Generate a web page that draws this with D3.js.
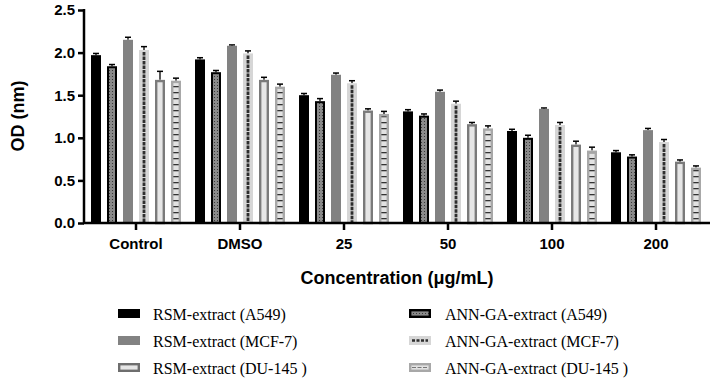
<!DOCTYPE html>
<html lang="en">
<head>
<meta charset="UTF-8">
<title>OD bar chart</title>
<script src="https://cdn.jsdelivr.net/npm/d3@7"></script>
<style>
  body { margin: 0; background: #fff; }
  .axis text { font-family: "Liberation Sans", Arial, sans-serif; font-weight: bold; font-size: 15px; fill: #000; }
  .legend text { font-family: "Liberation Serif", "Times New Roman", serif; font-size: 16px; fill: #000; }
</style>
</head>
<body>
<svg id="chart" width="716" height="388"></svg>
<script>
// data
var groups = ["Control", "DMSO", "25", "50", "100", "200"];
var series = ["RSM-extract (A549)", "ANN-GA-extract (A549)", "RSM-extract (MCF-7)",
              "ANN-GA-extract (MCF-7)", "RSM-extract (DU-145 )", "ANN-GA-extract (DU-145 )"];
var rsmA549   = [1.97, 1.92, 1.50, 1.31, 1.08, 0.83];
var annA549   = [1.84, 1.77, 1.43, 1.26, 1.00, 0.78];
var rsmMCF7   = [2.15, 2.08, 1.74, 1.54, 1.34, 1.09];
var annMCF7   = [2.03, 1.99, 1.64, 1.40, 1.15, 0.95];
var rsmDU145  = [1.68, 1.68, 1.32, 1.16, 0.92, 0.72];
var annDU145  = [1.67, 1.60, 1.28, 1.11, 0.85, 0.65];
var errA549r  = [0.02, 0.02, 0.02, 0.02, 0.02, 0.02];
var errA549a  = [0.02, 0.02, 0.03, 0.02, 0.03, 0.02];
var errMCF7r  = [0.03, 0.01, 0.02, 0.02, 0.01, 0.02];
var errMCF7a  = [0.04, 0.03, 0.03, 0.03, 0.03, 0.03];
var errDU145r = [0.10, 0.03, 0.02, 0.02, 0.04, 0.02];
var errDU145a = [0.03, 0.03, 0.03, 0.03, 0.04, 0.02];
var yTicks = [0.0, 0.5, 1.0, 1.5, 2.0, 2.5];

var values = [rsmA549, annA549, rsmMCF7, annMCF7, rsmDU145, annDU145];
var errors = [errA549r, errA549a, errMCF7r, errMCF7a, errDU145r, errDU145a];

var svg = d3.select("#chart");
var defs = svg.append("defs");

// fill patterns
var p1 = defs.append("pattern").attr("id", "dots").attr("patternUnits", "userSpaceOnUse")
  .attr("width", 3).attr("height", 3);
p1.append("rect").attr("width", 3).attr("height", 3).attr("fill", "#8a8a8a");
p1.append("rect").attr("x", 1).attr("y", 1).attr("width", 1).attr("height", 1).attr("fill", "#3a3a3a");

var p3 = defs.append("pattern").attr("id", "hdash").attr("patternUnits", "userSpaceOnUse")
  .attr("width", 40).attr("height", 6);
p3.append("rect").attr("width", 40).attr("height", 6).attr("fill", "#e2e2e2");
p3.append("rect").attr("y", 2).attr("width", 40).attr("height", 1.3).attr("fill", "#333");

var x0 = d3.scaleBand().domain(groups).range([84, 708]);
var x1 = d3.scaleBand().domain(d3.range(6)).range([-45, 45]).paddingInner(0.375);
var y = d3.scaleLinear().domain([0, 2.5]).range([223, 10]);

var bw = x1.bandwidth();

var g = svg.append("g");

groups.forEach(function (grp, gi) {
  var cx = x0(grp) + x0.bandwidth() / 2;
  values.forEach(function (arr, si) {
    var v = arr[gi];
    var x = cx + x1(si);
    var top = y(v), h = y(0) - y(v);
    var e = errors[si][gi];
    // error bar
    g.append("line").attr("x1", x + bw / 2).attr("x2", x + bw / 2)
      .attr("y1", y(v + e)).attr("y2", top).attr("stroke", "#000").attr("stroke-width", 1.3);
    g.append("line").attr("x1", x + bw / 2 - 3).attr("x2", x + bw / 2 + 3)
      .attr("y1", y(v + e)).attr("y2", y(v + e)).attr("stroke", "#000").attr("stroke-width", 1.5);

    if (si === 0) {
      g.append("rect").attr("x", x).attr("y", top).attr("width", bw).attr("height", h).attr("fill", "#000");
    } else if (si === 1) {
      g.append("rect").attr("x", x + 1).attr("y", top + 1).attr("width", bw - 2).attr("height", h - 1)
        .attr("fill", "url(#dots)").attr("stroke", "#000").attr("stroke-width", 2);
    } else if (si === 2) {
      g.append("rect").attr("x", x).attr("y", top).attr("width", bw).attr("height", h).attr("fill", "#828282");
    } else if (si === 3) {
      g.append("rect").attr("x", x).attr("y", top).attr("width", bw).attr("height", h).attr("fill", "#d6d6d6");
      g.append("line").attr("x1", x + bw / 2).attr("x2", x + bw / 2).attr("y1", top + 2).attr("y2", y(0))
        .attr("stroke", "#2e2e2e").attr("stroke-width", 2.8).attr("stroke-dasharray", "3.5,1");
    } else if (si === 4) {
      g.append("rect").attr("x", x + 1.2).attr("y", top + 1.2).attr("width", bw - 2.4).attr("height", h - 1.2)
        .attr("fill", "#e6e6e6").attr("stroke", "#7a7a7a").attr("stroke-width", 2.4);
    } else {
      g.append("rect").attr("x", x + 1.2).attr("y", top + 1.2).attr("width", bw - 2.4).attr("height", h - 1.2)
        .attr("fill", "url(#hdash)").attr("stroke", "#a8a8a8").attr("stroke-width", 2.4);
    }
  });
});

// axes
var yAxis = d3.axisLeft(y).tickValues(yTicks).tickFormat(d3.format(".1f")).tickSize(6).tickPadding(3);
var gy = svg.append("g").attr("class", "axis").attr("transform", "translate(84,0)").call(yAxis);
gy.selectAll("path, line").attr("stroke", "#000").attr("stroke-width", 2.5);
gy.select(".domain").attr("d", "M0,9V223");

var xAxis = d3.axisBottom(x0).tickSize(7).tickPadding(6).tickSizeOuter(0);
var gx = svg.append("g").attr("class", "axis").attr("transform", "translate(0,223)").call(xAxis);
gx.selectAll("path, line").attr("stroke", "#000").attr("stroke-width", 2.5);
gx.select(".domain").attr("d", "M83,0H710");
gx.selectAll("text").attr("dy", "0.85em");

svg.append("text").attr("transform", "translate(24,116) rotate(-90)")
  .attr("text-anchor", "middle")
  .style("font-family", "'Liberation Sans', Arial, sans-serif").style("font-weight", "bold").style("font-size", "18px")
  .text("OD (nm)");

svg.append("text").attr("x", 397).attr("y", 284).attr("text-anchor", "middle")
  .style("font-family", "'Liberation Sans', Arial, sans-serif").style("font-weight", "bold").style("font-size", "18px")
  .text("Concentration (μg/mL)");

// legend
var legendOrder = [0, 2, 4, 1, 3, 5];
var lg = svg.append("g").attr("class", "legend");
legendOrder.forEach(function (si, k) {
  var col = Math.floor(k / 3), row = k % 3;
  var lx = col === 0 ? 118 : 409, ly = 314 + row * 27;
  var sw = lg.append("g").attr("transform", "translate(" + lx + "," + (ly - 5) + ")");
  if (si === 0) {
    sw.append("rect").attr("width", 22).attr("height", 9).attr("fill", "#000");
  } else if (si === 2) {
    sw.append("rect").attr("width", 22).attr("height", 9).attr("fill", "#828282");
  } else if (si === 4) {
    sw.append("rect").attr("x", 1.2).attr("y", 1.2).attr("width", 19.6).attr("height", 6.6)
      .attr("fill", "#e6e6e6").attr("stroke", "#6e6e6e").attr("stroke-width", 2.4);
  } else if (si === 1) {
    sw.append("rect").attr("x", 1.2).attr("y", 1.2).attr("width", 19.6).attr("height", 6.6)
      .attr("fill", "url(#dots)").attr("stroke", "#000").attr("stroke-width", 2.4);
  } else if (si === 3) {
    sw.append("rect").attr("width", 22).attr("height", 9).attr("fill", "#d6d6d6");
    sw.append("line").attr("x1", 3).attr("x2", 19).attr("y1", 4.5).attr("y2", 4.5)
      .attr("stroke", "#2e2e2e").attr("stroke-width", 2.5).attr("stroke-dasharray", "3,1.5");
  } else {
    sw.append("rect").attr("x", 1.2).attr("y", 1.2).attr("width", 19.6).attr("height", 6.6)
      .attr("fill", "#e2e2e2").attr("stroke", "#a8a8a8").attr("stroke-width", 2.4);
    sw.append("line").attr("x1", 3).attr("x2", 19).attr("y1", 4.5).attr("y2", 4.5)
      .attr("stroke", "#777").attr("stroke-width", 1.2).attr("stroke-dasharray", "4,1.5");
  }
  lg.append("text").attr("x", lx + (col === 0 ? 35 : 36)).attr("y", ly + 5.5).text(series[si]);
});
</script>
</body>
</html>
